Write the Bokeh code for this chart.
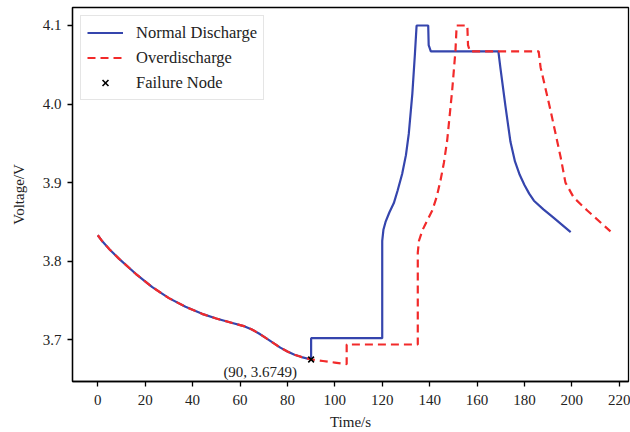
from bokeh.plotting import figure
from bokeh.models import Range1d, FixedTicker, PrintfTickFormatter
from bokeh.core.properties import value
from bokeh.embed import file_html
from bokeh.resources import INLINE

# ---- data ----
common_t = [0, 2, 5, 9, 16, 23, 30, 37, 44, 50, 56, 62, 65, 68, 71, 74, 77, 80, 83, 86, 90]
common_v = [3.833, 3.825, 3.815, 3.803, 3.784, 3.767, 3.753, 3.742, 3.733, 3.727, 3.722,
            3.717, 3.713, 3.708, 3.702, 3.696, 3.690, 3.685, 3.681, 3.678, 3.6749]

normal_tail_t = [90, 120, 120, 120.5, 121.4, 123, 124.9, 126.5, 128.4, 130, 131.2, 132.7,
                 133.8, 134.5, 139.4, 139.6, 140.5, 169, 169.9, 172, 174.1, 176, 178, 180,
                 182, 184, 188, 192, 196, 199.5]
normal_tail_v = [3.702, 3.702, 3.826, 3.840, 3.850, 3.862, 3.874, 3.890, 3.911, 3.935, 3.962,
                 4.013, 4.064, 4.100, 4.100, 4.075, 4.067, 4.067, 4.045, 3.997, 3.952, 3.927,
                 3.910, 3.897, 3.886, 3.877, 3.866, 3.856, 3.846, 3.837]

over_tail_t = [95, 100, 105, 105, 135, 135, 135.5, 136.9, 139, 141.1, 143, 144.6, 146, 147.4,
               149.5, 150.9, 151.4, 155.9, 156.2, 157, 186, 186.8, 191, 195.3, 197.3, 200.8,
               206.5, 216.3]
over_tail_v = [3.673, 3.671, 3.669, 3.694, 3.694, 3.811, 3.826, 3.839, 3.852, 3.8645, 3.882,
               3.903, 3.925, 3.9536, 4.017, 4.068, 4.100, 4.100, 4.075, 4.067, 4.067, 4.047,
               3.992, 3.932, 3.900, 3.881, 3.8645, 3.838]

normal_t = common_t + normal_tail_t
normal_v = common_v + normal_tail_v
over_t = common_t + over_tail_t
over_v = common_v + over_tail_v

failure_t = [90]
failure_v = [3.6749]
failure_label = ["(90, 3.6749)"]

x_ticks = [0, 20, 40, 60, 80, 100, 120, 140, 160, 180, 200, 220]
y_ticks = [3.7, 3.8, 3.9, 4.0, 4.1]

FONT = "Liberation Serif"

p = figure(width=630, height=432, output_backend="svg", toolbar_location=None,
           x_range=Range1d(-10.67, 223.9), y_range=Range1d(3.6469, 4.1229),
           min_border_left=72, min_border_right=2, min_border_top=7, min_border_bottom=51,
           x_axis_label="Time/s", y_axis_label="Voltage/V")

p.xgrid.visible = False
p.ygrid.visible = False
p.outline_line_color = "black"
p.outline_line_width = 1.3
p.outline_line_alpha = 1.0

p.xaxis.ticker = FixedTicker(ticks=x_ticks)
p.yaxis.ticker = FixedTicker(ticks=y_ticks)
p.yaxis.formatter = PrintfTickFormatter(format="%.1f")
for ax in (p.xaxis, p.yaxis):
    ax.axis_line_width = 1.3
    ax.axis_line_color = "black"
    ax.major_tick_line_width = 1.3
    ax.major_tick_line_color = "black"
    ax.major_tick_out = 5
    ax.major_tick_in = 0
    ax.minor_tick_line_color = None
    ax.major_label_text_font = FONT
    ax.major_label_text_font_size = "15px"
    ax.major_label_text_color = "#222222"
    ax.axis_label_text_font = FONT
    ax.axis_label_text_font_size = "15px"
    ax.axis_label_text_font_style = "normal"
    ax.axis_label_text_color = "#222222"
p.xaxis.major_label_standoff = 8
p.xaxis.axis_label_standoff = 6
p.yaxis.major_label_standoff = 6
p.yaxis.axis_label_standoff = 13

p.line(normal_t, normal_v, line_color="#3545ad", line_width=2.2, legend_label="Normal Discharge")
p.line(over_t, over_v, line_color="#f22a2a", line_width=2.2, line_dash="8 5",
       legend_label="Overdischarge")
p.scatter(failure_t, failure_v, marker="x", size=8, line_color="black", line_width=1.6,
          legend_label="Failure Node")
p.text(failure_t, failure_v, text=failure_label, text_font=value(FONT), text_font_size="15px",
       text_color="#222222", text_align="right", text_baseline="middle",
       x_offset=-14, y_offset=12)

lg = p.legend[0]
lg.location = "top_left"
lg.label_text_font = FONT
lg.label_text_font_size = "16.5px"
lg.label_text_color = "#222222"
lg.border_line_color = "#cccccc"
lg.border_line_width = 1
lg.background_fill_alpha = 0.85
lg.glyph_width = 36
lg.glyph_height = 21
lg.label_height = 21
lg.spacing = 4
lg.padding = 6
lg.margin = 8
lg.label_standoff = 13

open("out.html", "w").write(file_html(p, INLINE))
